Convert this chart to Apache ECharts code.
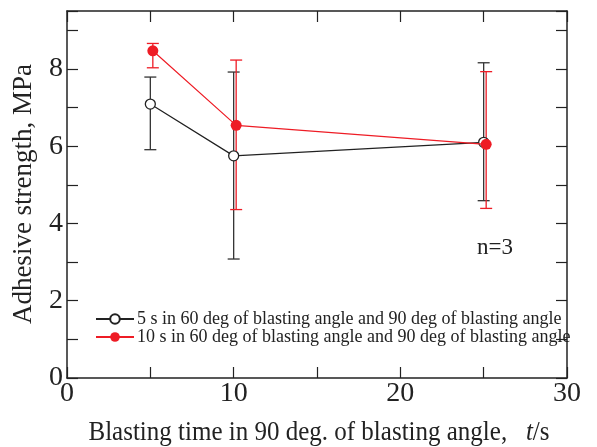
<!DOCTYPE html>
<html>
<head>
<meta charset="utf-8">
<script src="https://cdn.jsdelivr.net/npm/echarts@6/dist/echarts.min.js"></script>
<style>html,body{margin:0;padding:0;background:#fff;}#c{width:597px;height:447px;}</style>
</head>
<body>
<div id="c"></div>
<script>
// Series A: 5 s in 60 deg ... (open circles)
var nameA = '5 s in 60 deg of blasting angle and 90 deg of blasting angle';
var timesA = [5, 10, 25];
var meanA = [7.09, 5.75, 6.10];
var upperA = [7.79, 7.92, 8.16];
var lowerA = [5.91, 3.08, 4.59];
// Series B: 10 s in 60 deg ... (filled red circles)
var nameB = '10 s in 60 deg of blasting angle and 90 deg of blasting angle';
var timesB = [5.15, 10.15, 25.15];
var meanB = [8.47, 6.54, 6.05];
var upperB = [8.66, 8.23, 7.93];
var lowerB = [8.03, 4.36, 4.39];

var xTitle = 'Blasting time in 90 deg. of blasting angle,';
var yTitle = 'Adhesive strength, MPa';
var note = 'n=3';

var FONT = '"Liberation Serif", "Times New Roman", serif';
var BLACK = '#222';
var RED = '#ee1c25';

function pts(xs, ys) { return xs.map(function (x, i) { return [x, ys[i]]; }); }
function errData(xs, lo, hi) { return xs.map(function (x, i) { return [x, lo[i], hi[i]]; }); }

function errRender(color) {
  return function (params, api) {
    var x = api.value(0);
    var lo = api.coord([x, api.value(1)]);
    var hi = api.coord([x, api.value(2)]);
    var w = 6;
    var st = { stroke: color, lineWidth: 1.3 };
    return {
      type: 'group',
      children: [
        { type: 'line', shape: { x1: lo[0], y1: lo[1], x2: hi[0], y2: hi[1] }, style: st },
        { type: 'line', shape: { x1: lo[0] - w, y1: lo[1], x2: lo[0] + w, y2: lo[1] }, style: st },
        { type: 'line', shape: { x1: hi[0] - w, y1: hi[1], x2: hi[0] + w, y2: hi[1] }, style: st }
      ]
    };
  };
}

var axisCommon = {
  axisLine: { show: true, onZero: false, lineStyle: { color: BLACK, width: 1.5 } },
  axisTick: { show: true, inside: true, length: 11, lineStyle: { color: BLACK, width: 1.2 } },
  splitLine: { show: false }
};

var chart = echarts.init(document.getElementById('c'), null, { renderer: 'canvas' });
chart.setOption({
  animation: false,
  backgroundColor: '#fff',
  textStyle: { fontFamily: FONT },
  grid: { left: 67, right: 30, top: 11, bottom: 69 },
  xAxis: [
    Object.assign({
      type: 'value', min: 0, max: 30, interval: 5, position: 'bottom',
      axisLabel: {
        color: BLACK, fontFamily: FONT, fontSize: 28, margin: 2,
        formatter: function (v) { return v % 10 === 0 ? String(v) : ''; }
      }
    }, axisCommon),
    Object.assign({
      type: 'value', min: 0, max: 30, interval: 5, position: 'top',
      axisLabel: { show: false }
    }, axisCommon)
  ],
  yAxis: [
    Object.assign({
      type: 'value', min: 0, max: 9.5, interval: 1, position: 'left',
      axisLabel: {
        color: BLACK, fontFamily: FONT, fontSize: 28, margin: 4,
        formatter: function (v) { return v % 2 === 0 ? String(v) : ''; }
      }
    }, axisCommon),
    Object.assign({
      type: 'value', min: 0, max: 9.5, interval: 1, position: 'right',
      axisLabel: { show: false }
    }, axisCommon)
  ],
  legend: {
    data: [nameA, nameB],
    orient: 'vertical',
    left: 95, top: 310,
    itemWidth: 38, itemHeight: 12, itemGap: 0,
    padding: 0,
    textStyle: { fontFamily: FONT, fontSize: 18, color: BLACK, lineHeight: 18, padding: [0, 0, 0, -2] }
  },
  series: [
    {
      type: 'custom', name: 'errA', z: 1, silent: true,
      renderItem: errRender('#333'),
      data: errData(timesA, lowerA, upperA)
    },
    {
      type: 'custom', name: 'errB', z: 1, silent: true,
      renderItem: errRender(RED),
      data: errData(timesB, lowerB, upperB)
    },
    {
      type: 'line', name: nameA, z: 3,
      data: pts(timesA, meanA),
      symbol: 'circle', symbolSize: 10,
      lineStyle: { color: BLACK, width: 1.2 },
      itemStyle: { color: '#fff', borderColor: BLACK, borderWidth: 1.3 }
    },
    {
      type: 'line', name: nameB, z: 4,
      data: pts(timesB, meanB),
      symbol: 'circle', symbolSize: 11,
      lineStyle: { color: RED, width: 1.2 },
      itemStyle: { color: RED, borderColor: RED, borderWidth: 0 }
    }
  ],
  graphic: [
    {
      type: 'text', x: 319, y: 433, scaleY: 1.06,
      style: {
        text: '{a|' + xTitle + '   }{i|t}{a|/s}',
        align: 'center', verticalAlign: 'middle',
        rich: {
          a: { fontFamily: FONT, fontSize: 25, fill: BLACK },
          i: { fontFamily: FONT, fontSize: 25, fontStyle: 'italic', fill: BLACK }
        }
      }
    },
    {
      type: 'text', x: 24, y: 194, rotation: Math.PI / 2,
      style: {
        text: yTitle, fontFamily: FONT, fontSize: 27, fill: BLACK,
        align: 'center', verticalAlign: 'middle'
      }
    },
    {
      type: 'text', x: 477, y: 248,
      style: { text: note, fontFamily: FONT, fontSize: 23, fill: BLACK, verticalAlign: 'middle' }
    }
  ]
});
</script>
</body>
</html>
